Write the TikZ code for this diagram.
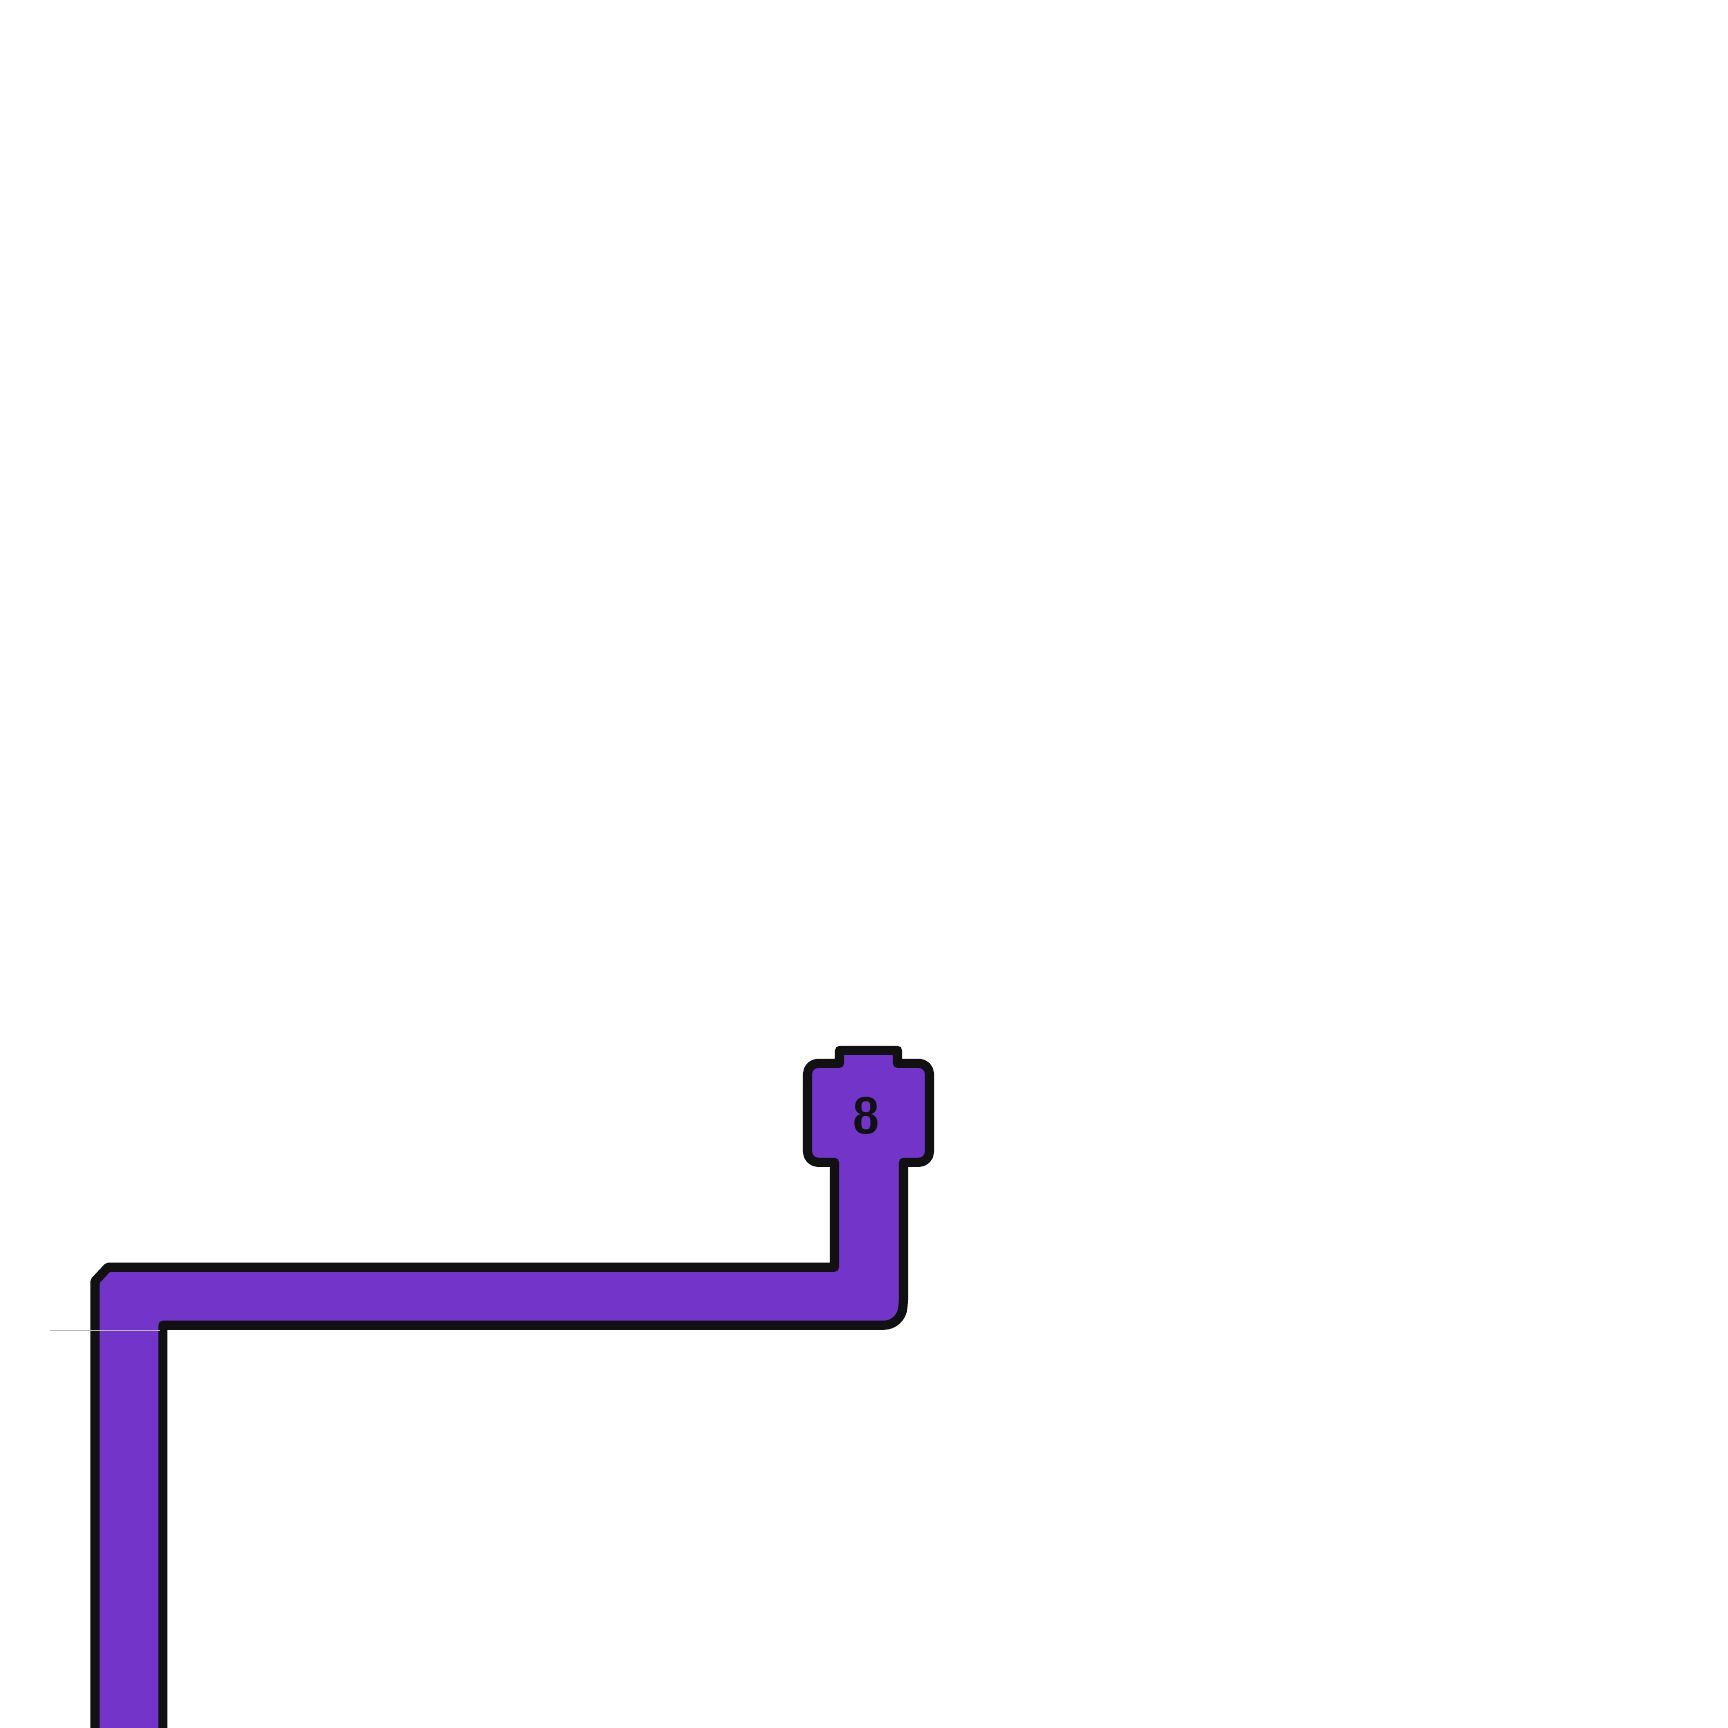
\documentclass[tikz,border=0pt]{standalone}
\usepackage{xcolor}
\definecolor{pipe}{HTML}{7234C9}
\definecolor{ink}{HTML}{111111}
\usepackage{tikz}
\usetikzlibrary{positioning, calc}

\begin{document}
\begin{tikzpicture}[font=\sffamily\Large\bfseries]
  \useasboundingbox (0,0) rectangle (17.28,17.28);
  \fill[white] (0,0) rectangle (17.28,17.28);

  \begin{scope}[yshift=17.28cm, x=0.01cm, y=-0.01cm]
    % pipe with the socket on top
    \draw[fill=pipe, draw=ink, line width=2.6pt, line join=round]
      (95,1740) -- (95,1282) -- (108,1268) -- (835,1268) -- (835,1163)
      [rounded corners=3pt] -- (808,1163) -- (808,1064)
      [sharp corners] -- (840,1064) -- (840,1051) -- (898,1051) -- (898,1064)
      [rounded corners=3pt] -- (930,1064) -- (930,1163)
      [sharp corners] -- (904,1163) -- (904,1300)
      [rounded corners=5pt] -- (902,1326)
      [sharp corners] -- (163,1326) -- (163,1740);

    % faint seam line
    \draw[gray!55, line width=0.4pt] (50,1331) -- (160,1331);

    \node[text=ink] (num) at (867,1117) {8};
  \end{scope}
\end{tikzpicture}
\end{document}
